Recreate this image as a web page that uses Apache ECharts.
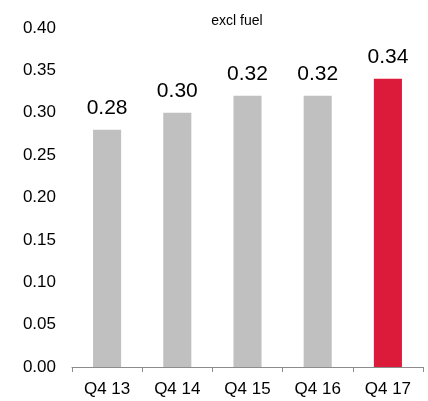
<html>
<head>
<meta charset="UTF-8">
<script src="https://cdn.jsdelivr.net/npm/echarts@6/dist/echarts.min.js"></script>
<style>html,body,#container{width:100%;height:100%;margin:0;padding:0;background:#fff;}</style>
</head>
<body>
<div id="container"></div>
<script>
var categories = ['Q4 13', 'Q4 14', 'Q4 15', 'Q4 16', 'Q4 17'];
var values = [0.28, 0.30, 0.32, 0.32, 0.34];
var barColors = ['#c0c0c0', '#c0c0c0', '#c0c0c0', '#c0c0c0', '#dc1a3a'];

var chart = echarts.init(document.getElementById('container'));
chart.setOption({
  backgroundColor: '#fff',
  animation: false,
  textStyle: { fontFamily: 'Liberation Sans' },
  title: {
    text: 'excl fuel',
    left: 232,
    top: 9,
    textAlign: 'center',
    textStyle: { fontSize: 14, fontWeight: 'normal', color: '#000', fontFamily: 'Liberation Sans' }
  },
  grid: { left: 72, right: 5, top: 28, bottom: 34 },
  xAxis: {
    type: 'category',
    data: categories,
    axisLine: { lineStyle: { color: '#8c8c8c', width: 1 } },
    axisTick: { show: true, length: 5, lineStyle: { color: '#8c8c8c' } },
    axisLabel: { fontSize: 17, color: '#000', margin: 14 }
  },
  yAxis: {
    type: 'value',
    min: 0,
    max: 0.4,
    interval: 0.05,
    axisLine: { show: false },
    axisTick: { show: false },
    splitLine: { show: false },
    axisLabel: {
      fontSize: 17,
      color: '#000',
      margin: 16,
      formatter: function (v) { return v.toFixed(2); }
    }
  },
  series: [{
    type: 'bar',
    barWidth: '40%',
    data: values.map(function (v, i) {
      return { value: v, itemStyle: { color: barColors[i] } };
    }),
    label: {
      show: true,
      position: 'top',
      distance: 11,
      fontSize: 21,
      color: '#000',
      formatter: function (p) { return p.value.toFixed(2); }
    }
  }]
});
</script>
</body>
</html>
